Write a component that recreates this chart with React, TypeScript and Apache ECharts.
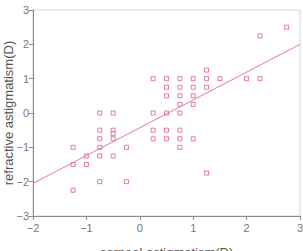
import React, { useEffect, useRef } from "react";
import * as echarts from "echarts";

// corneal astigmatism (D) per eye
const cornealX = [
  2.75, 2.25, 1.25,
  0.25, 0.5, 0.75, 1.0, 1.25, 1.5, 2.0, 2.25,
  0.5, 0.75, 1.0, 1.25,
  0.5, 0.75, 1.0,
  0.75, 1.0,
  -0.75, -0.5, 0.25, 0.5, 0.75,
  -0.75, -0.5, 0.25, 0.5, 0.75,
  -0.5,
  -0.75, -0.5, 0.25, 0.5, 0.75, 1.0,
  -1.25, -0.75, -0.25, 0.75,
  -1.0, -0.75, -0.5,
  -1.25, -1.0,
  1.25,
  -0.75, -0.25,
  -1.25,
];
// refractive astigmatism (D) per eye
const refractiveY = [
  2.5, 2.25, 1.25,
  1, 1, 1, 1, 1, 1, 1, 1,
  0.75, 0.75, 0.75, 0.75,
  0.5, 0.5, 0.5,
  0.25, 0.25,
  0, 0, 0, 0, 0,
  -0.5, -0.5, -0.5, -0.5, -0.5,
  -0.6,
  -0.75, -0.75, -0.75, -0.75, -0.75, -0.75,
  -1, -1, -1, -1,
  -1.25, -1.25, -1.25,
  -1.5, -1.5,
  -1.75,
  -2, -2,
  -2.25,
];
// least-squares fit line end points
const fitX = [-2, 3];
const fitY = [-2.05, 2.0];

const xTicks = [-2, -1, 0, 1, 2, 3];
const yTicks = [-3, -2, -1, 0, 1, 2, 3];

const minus = (v: number) => String(v).replace("-", "\u2212");
const FONT = "Liberation Sans, Arial, sans-serif";

export default function App() {
  const ref = useRef<HTMLDivElement>(null);
  useEffect(() => {
    document.body.style.margin = "0";
    const chart = echarts.init(ref.current!, null, { renderer: "svg" });
    const axisColor = "#8a8a8a";
    chart.setOption({
      animation: false,
      backgroundColor: "#ffffff",
      grid: {
        left: 33,
        right: 3,
        top: 10,
        bottom: 35,
        outerBoundsMode: "none",
        containLabel: false,
        show: true,
        borderColor: "#d4d4d4",
        borderWidth: 1,
      },
      xAxis: {
        type: "value",
        min: xTicks[0],
        max: xTicks[xTicks.length - 1],
        interval: 1,
        name: "corneal astigmatism(D)",
        nameLocation: "middle",
        nameGap: 30,
        nameMoveOverlap: false,
        nameTextStyle: { color: "#555", fontSize: 13, fontFamily: FONT },
        axisLine: { onZero: false, lineStyle: { color: axisColor, width: 1 } },
        axisTick: { show: true, length: 4, lineStyle: { color: axisColor } },
        axisLabel: {
          color: "#777",
          fontSize: 11,
          fontFamily: FONT,
          margin: 6,
          formatter: minus,
        },
        splitLine: { show: false },
      },
      yAxis: {
        type: "value",
        min: yTicks[0],
        max: yTicks[yTicks.length - 1],
        interval: 1,
        name: "refractive astigmatism(D)",
        nameLocation: "middle",
        nameGap: 18,
        nameMoveOverlap: false,
        nameTextStyle: { color: "#555", fontSize: 13, fontFamily: FONT },
        axisLine: { onZero: false, lineStyle: { color: axisColor, width: 1 } },
        axisTick: { show: true, length: 4, lineStyle: { color: axisColor } },
        axisLabel: {
          color: "#777",
          fontSize: 11,
          fontFamily: FONT,
          margin: 4,
          formatter: minus,
        },
        splitLine: { show: false },
      },
      series: [
        {
          type: "line",
          data: fitX.map((x, i) => [x, fitY[i]]),
          showSymbol: false,
          lineStyle: { color: "#e87a8e", width: 1 },
          silent: true,
        },
        {
          type: "scatter",
          data: cornealX.map((x, i) => [x, refractiveY[i]]),
          symbol: "rect",
          symbolSize: 4,
          itemStyle: { color: "#ffffff", borderColor: "#d9607a", borderWidth: 1 },
        },
      ],
    });
    return () => chart.dispose();
  }, []);
  return (
    <div
      ref={ref}
      style={{ position: "fixed", left: 0, top: 0, width: 303, height: 251 }}
    />
  );
}
